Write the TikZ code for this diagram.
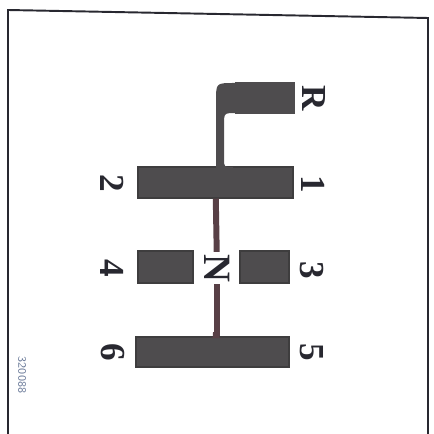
\documentclass[tikz,border=0pt]{standalone}
\usepackage{fontspec}
\setmainfont{Liberation Serif}
\usepackage{tikz}
\usetikzlibrary{positioning,calc}

\definecolor{bargray}{RGB}{78,76,78}
\definecolor{stemred}{RGB}{88,64,70}
\definecolor{inkdark}{RGB}{40,40,48}
\definecolor{codeblue}{RGB}{110,125,155}

\tikzset{
  gearbar/.style={draw=bargray!80!black, fill=bargray, line width=0.6pt, inner sep=0pt},
  stemline/.style={draw=stemred, line width=3.4pt},
  gearlbl/.style={rotate=-90, text=inkdark, font=\fontsize{20}{22}\selectfont\bfseries, inner sep=1pt},
}

\begin{document}
\begin{tikzpicture}[x=0.2mm,y=-0.2mm]
\useasboundingbox (0,0) rectangle (433,434);
% Frame of the plate
\draw[inkdark, line width=1.1pt] (8,434) -- (8,10) -- (428,18) -- (428,434);

% Gate bars
\node[gearbar, draw=bargray, minimum width=11.6mm, minimum height=6mm] (bR) at (265,98) {};
\node[gearbar, minimum width=31mm, minimum height=6.2mm] (b21) at (215.5,182.5) {};
\node[gearbar, minimum width=11mm, minimum height=6.4mm] (b4) at (165.5,267) {};
\node[gearbar, minimum width=9.8mm, minimum height=6.4mm] (b3) at (264.5,267) {};
\node[gearbar, minimum width=30.6mm, minimum height=6mm] (b65) at (212.5,352) {};

% Reverse hook
\fill[bargray] (245,83) -- (234,83) .. controls (216,83) .. (216,101) -- (216,170)
  -- (233,170) -- (233,167) .. controls (224,167) .. (224,159) -- (224,125)
  .. controls (224,113) .. (236,113) -- (245,113) -- cycle;

% Gear labels
\foreach \n/\x/\y/\t in {lR/314/98/R, l1/313/184/1, l2/112/183/2, l4/112/268/4,
                         l3/312/270/3, l6/113/352/6, l5/312/352/5}{
  \node[gearlbl] (\n) at (\x,\y) {\t};
}
\node[gearlbl, font=\fontsize{22}{24}\selectfont\bfseries] (nN) at (217,268) {N};

% Neutral lane
\draw[stemline] (b21) -- (nN);
\draw[stemline] (nN) -- (nN |- b65.north);
\fill[stemred] (211,338) .. controls (213,338) .. (213,332) -- (219,332)
  .. controls (219,338) .. (222,338) -- cycle;

\node[rotate=-90, text=codeblue, font=\fontsize{6.5}{7}\selectfont\sffamily] (code) at (22,375) {320088};
\end{tikzpicture}
\end{document}
